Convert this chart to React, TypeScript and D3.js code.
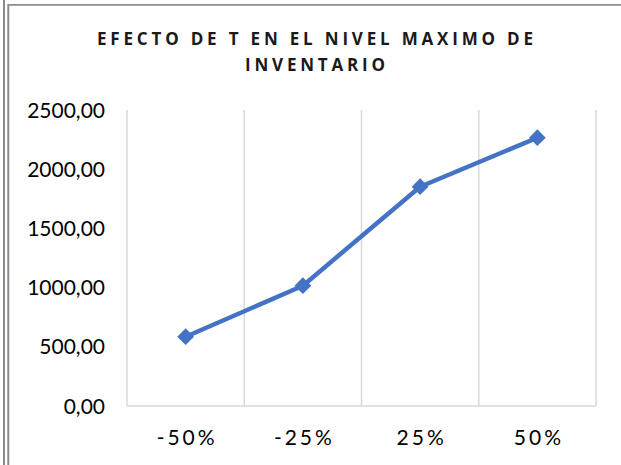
import React from "react";
import * as d3 from "d3";

const categories: string[] = ["-50%", "-25%", "25%", "50%"];
const values: number[] = [585, 1016, 1852, 2266];
const yTicks: number[] = [0, 500, 1000, 1500, 2000, 2500];
const titleLines: string[] = ["EFECTO DE T EN EL NIVEL MAXIMO DE", "INVENTARIO"];

const W = 621;
const H = 465;
const plot = { left: 127, right: 596, top: 110, bottom: 406 };
const FONT = "Lato, 'Open Sans', 'Liberation Sans', sans-serif";
const TITLE_FONT = "'Open Sans', 'Liberation Sans', sans-serif";
const LINE_COLOR = "#4472C4";
const GRID_COLOR = "#d9d9d9";

const fmt = (v: number) => v.toFixed(2).replace(".", ",");

export default function App() {
  const x = d3
    .scaleBand<string>()
    .domain(categories)
    .range([plot.left, plot.right])
    .padding(0);
  const y = d3.scaleLinear().domain([0, 2500]).range([plot.bottom, plot.top]);

  const cx = (c: string) => (x(c) ?? 0) + x.bandwidth() / 2;
  const points: [number, number][] = categories.map((c, i) => [cx(c), y(values[i])]);
  const linePath = d3.line()(points) ?? "";
  const marker = d3.symbol(d3.symbolSquare, 140)() ?? "";

  // category boundaries for the vertical gridlines
  const bounds = categories.map((c) => x(c) ?? 0).concat([plot.right]);

  return (
    <svg
      width={W}
      height={H}
      style={{ position: "absolute", left: 0, top: 0, background: "#fff" }}
    >
      {/* outer frame */}
      <line x1={4} y1={0} x2={4} y2={H} stroke="#8c8c8c" strokeWidth={2} />
      <line x1={8} y1={4.8} x2={W} y2={4.8} stroke="#8c8c8c" strokeWidth={1.8} />
      <line x1={8.3} y1={4} x2={8.3} y2={H} stroke="#8c8c8c" strokeWidth={2} />

      {/* title */}
      <text
        x={315}
        y={45}
        textAnchor="middle"
        fontFamily={TITLE_FONT}
        fontWeight={700}
        fontSize={17}
        fill="#1a1a1a"
        textLength={436}
        lengthAdjust="spacing"
      >
        {titleLines[0]}
      </text>
      <text
        x={315}
        y={71}
        textAnchor="middle"
        fontFamily={TITLE_FONT}
        fontWeight={700}
        fontSize={17}
        fill="#1a1a1a"
        textLength={140}
        lengthAdjust="spacing"
      >
        {titleLines[1]}
      </text>

      {/* vertical gridlines */}
      {bounds.map((bx, i) => (
        <line
          key={i}
          x1={bx}
          x2={bx}
          y1={plot.top}
          y2={plot.bottom}
          stroke={GRID_COLOR}
          strokeWidth={1.5}
        />
      ))}
      {/* category axis */}
      <line
        x1={plot.left}
        x2={plot.right}
        y1={plot.bottom}
        y2={plot.bottom}
        stroke={GRID_COLOR}
        strokeWidth={1.5}
      />

      {/* value axis labels */}
      {yTicks.map((t) => (
        <text
          key={t}
          x={105}
          y={y(t)}
          dy="0.36em"
          textAnchor="end"
          fontFamily={FONT}
          fontSize={21}
          fill="#000"
        >
          {fmt(t)}
        </text>
      ))}

      {/* category labels */}
      {categories.map((c) => (
        <text
          key={c}
          x={cx(c) + 1.5}
          y={437}
          dy="0.36em"
          textAnchor="middle"
          fontFamily={FONT}
          fontSize={21}
          letterSpacing={3}
          fill="#000"
        >
          {c}
        </text>
      ))}

      {/* series */}
      <path
        d={linePath}
        fill="none"
        stroke={LINE_COLOR}
        strokeWidth={4.5}
        strokeLinejoin="round"
        strokeLinecap="round"
      />
      {points.map(([px, py], i) => (
        <path
          key={i}
          d={marker}
          transform={`translate(${px},${py}) rotate(45)`}
          fill={LINE_COLOR}
        />
      ))}
    </svg>
  );
}
